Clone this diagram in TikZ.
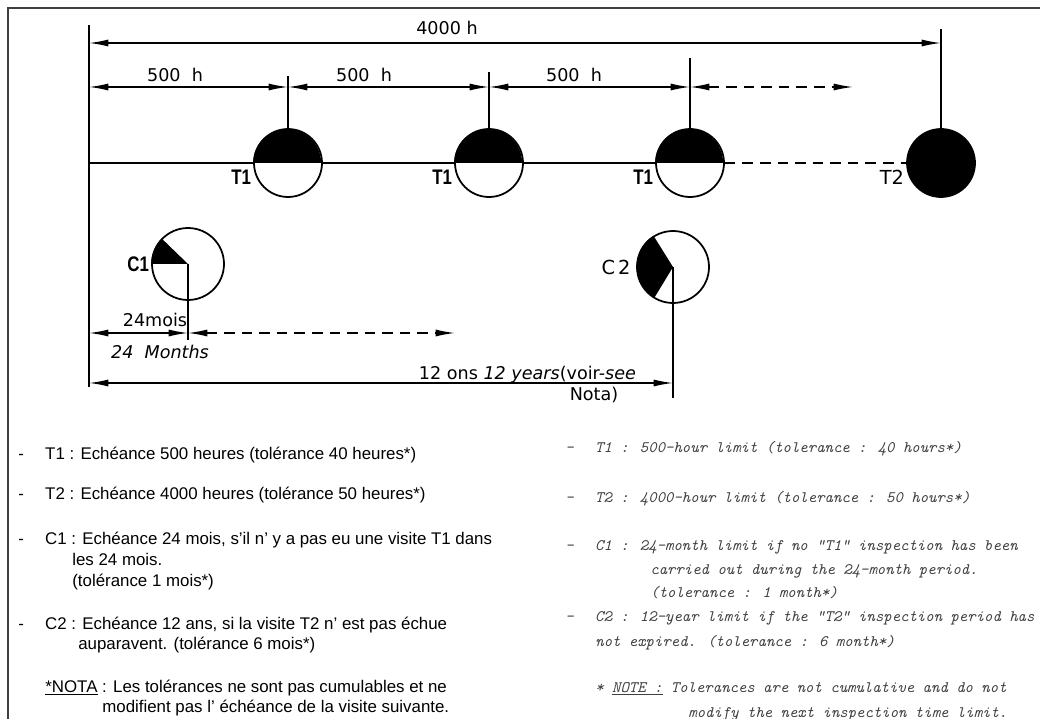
\documentclass[tikz,border=0pt]{standalone}
\usepackage{fontspec}
\setmainfont{Liberation Sans}
\newfontfamily\lettrage{DejaVu Sans}
\newfontfamily\repere[FakeStretch=0.8]{Liberation Sans}
\usetikzlibrary{arrows.meta,positioning}

\begin{document}
\begin{tikzpicture}[x=0.02cm,y=0.02cm,
        >={Latex[length=11pt,width=4pt]},
        trait/.style={line width=0.8pt},
        cote/.style={line width=0.8pt,<->},
        tirets/.style={dash pattern=on 6pt off 4pt},
        tc/.style={circle,draw,line width=1pt,fill=white,
                   minimum size=1.36cm,inner sep=0pt},
        cc/.style={circle,draw,line width=1pt,fill=white,
                   minimum size=1.44cm,inner sep=0pt},
        lab/.style={font=\lettrage\fontsize{10}{12}\selectfont,inner sep=1pt},
        rep/.style={font=\repere\bfseries\fontsize{12}{12}\selectfont,inner sep=1pt},
        fr/.style={font=\fontsize{9.6}{11}\selectfont,anchor=base west,inner sep=0pt},
        en/.style={font=\ttfamily\itshape\fontsize{9.1}{11}\selectfont,
                   anchor=base west,inner sep=0pt,text=black!75}]

  \useasboundingbox (0,0) rectangle (1040,-719);

  % cadre
  \coordinate (fa) at (8,-719);
  \coordinate (fb) at (8,-8);
  \coordinate (fc) at (1040,-8);
  \draw[line width=1.2pt,black!75] (fa) -- (fb) -- (fc);

  % origine
  \coordinate (v0) at (89,-25);
  \coordinate (v1) at (89,-387);
  \draw[trait] (v0) -- (v1);

  % visites T1
  \foreach \n/\x/\k in {t1a/288/76,t1b/489/72,t1c/690/58}{
    \node[tc] (\n) at (\x,-163) {};
    \fill (\n.west) arc[start angle=180,end angle=0,radius=0.68cm] -- cycle;
    \coordinate (\n k) at (\x,-\k);
    \draw[trait] (\n k) -- (\n.north);
    \node[rep,below left=3pt and 0pt of \n.west] (\n l) {T1};
  }

  % visite T2
  \node[tc,fill=black] (t2) at (941,-163) {};
  \coordinate (t2k) at (941,-29);
  \draw[trait] (t2k) -- (t2.north);
  \node[lab,font=\lettrage\fontsize{11}{12}\selectfont,below left=3pt and 0pt of t2.west] (t2l) {T2};

  % ligne des heures
  \coordinate (m0) at (89,-163);
  \draw[trait] (m0) -- (t1a) -- (t1b) -- (t1c);
  \draw[trait,tirets] (t1c) -- (t2);

  % cote 4000 h
  \coordinate (a0) at (89,-43);
  \coordinate (a1) at (941,-43);
  \draw[cote] (a0) -- (a1);
  \node[lab] (h4000) at (447,-28) {4000 h};

  % cotes 500 h
  \coordinate (p0) at (89,-87);
  \coordinate (p1) at (288,-87);
  \coordinate (p2) at (489,-87);
  \coordinate (p3) at (690,-87);
  \coordinate (p4) at (853,-87);
  \foreach \a/\b in {p0/p1,p1/p2,p2/p3}{
    \draw[cote] (\a) -- (\b);
  }
  \draw[cote,tirets] (p3) -- (p4);
  \node[lab] (h1) at (175,-75) {500\ \ h};
  \node[lab] (h2) at (364,-75) {500\ \ h};
  \node[lab] (h3) at (574,-75) {500\ \ h};

  % visites C1 et C2
  \node[cc] (c1) at (188,-264) {};
  \fill (c1.center) -- (c1.west) arc[start angle=180,end angle=135,radius=0.72cm] -- cycle;
  \node[rep,left=0pt of c1.west] (c1l) {C1};
  \coordinate (c1k) at (188,-340);
  \draw[trait] (c1.center) -- (c1k);

  \node[cc] (c2) at (673,-267) {};
  \fill (c2.center) -- (c2.122) arc[start angle=122,end angle=240,radius=0.72cm] -- cycle;
  \node[lab,font=\lettrage\fontsize{11}{12}\selectfont,left=2pt of c2.west] (c2l) {C\,2};
  \coordinate (c2k) at (673,-398);
  \draw[trait] (c2.center) -- (c2k);

  % cote 24 mois
  \coordinate (q0) at (89,-333);
  \coordinate (q1) at (188,-333);
  \coordinate (q2) at (455,-333);
  \draw[cote] (q0) -- (q1);
  \draw[cote,tirets] (q1) -- (q2);
  \node[lab] (m24) at (155,-320) {24mois};
  \node[lab,font=\lettrage\itshape\fontsize{10}{12}\selectfont] (m24e) at (160,-352) {24\ \ Months};

  % cote 12 ans
  \coordinate (r0) at (89,-383);
  \coordinate (r1) at (673,-383);
  \draw[cote] (r0) -- (r1);
  \node[lab,anchor=base east] (a12) at (638,-379) {12 ons \textit{12 years}(voir-\textit{see}};
  \node[lab] (nota) at (594,-395) {Nota)};

  % legende
  \node[fr] (l1) at (18,-459) {\makebox[15.3pt][l]{-}T1 : Echéance 500 heures (tolérance 40 heures*)};
  \node[fr] (l2) at (18,-499) {\makebox[15.3pt][l]{-}T2 : Echéance 4000 heures (tolérance 50 heures*)};
  \node[fr] (l3) at (18,-544) {\makebox[15.3pt][l]{-}C1 : Echéance 24 mois, s'il n' y a pas eu une visite T1 dans};
  \node[fr] (l3b) at (72,-565) {les 24 mois.};
  \node[fr] (l3c) at (72,-586) {(tolérance 1 mois*)};
  \node[fr] (l4) at (18,-629) {\makebox[15.3pt][l]{-}C2 : Echéance 12 ans, si la visite T2 n' est pas échue};
  \node[fr] (l4b) at (78,-649) {auparavent. (tolérance 6 mois*)};
  \node[fr] (l5) at (45,-692) {\underline{*NOTA} : Les tolérances ne sont pas cumulables et ne};
  \node[fr] (l5b) at (102,-712) {modifient pas l' échéance de la visite suivante.};

  \node[en] (r1t) at (565,-452) {\makebox[17pt][l]{-}T1 : 500-hour limit (tolerance : 40 hours*)};
  \node[en] (r2t) at (565,-502) {\makebox[17pt][l]{-}T2 : 4000-hour limit (tolerance : 50 hours*)};
  \node[en] (r3t) at (565,-550) {\makebox[17pt][l]{-}C1 : 24-month limit if no "T1" inspection has been};
  \node[en] (r3b) at (650,-574) {carried out during the 24-month period.};
  \node[en] (r3c) at (650,-597) {(tolerance : 1 month*)};
  \node[en] (r4t) at (565,-621) {\makebox[17pt][l]{-}C2 : 12-year limit if the "T2" inspection period has};
  \node[en] (r4b) at (595,-646) {not expired. (tolerance : 6 month*)};
  \node[en] (r5t) at (595,-692) {* \underline{NOTE :} Tolerances are not cumulative and do not};
  \node[en] (r5b) at (688,-717) {modify the next inspection time limit.};
\end{tikzpicture}
\end{document}
